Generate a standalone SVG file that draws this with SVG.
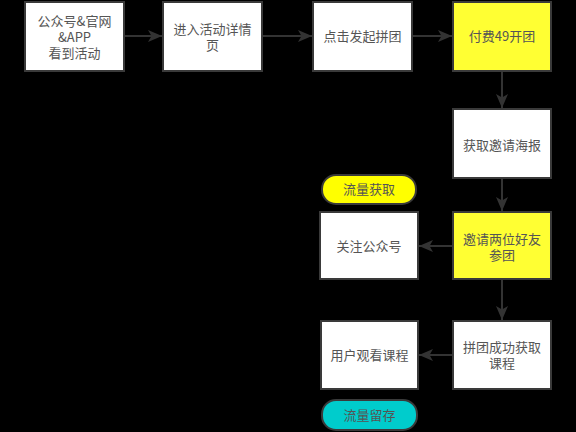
<svg xmlns="http://www.w3.org/2000/svg" width="576" height="432" viewBox="0 0 576 432">
<defs>
<marker id="ah" viewBox="0 0 14 12" markerWidth="14" markerHeight="12" refX="14" refY="6" orient="auto" markerUnits="userSpaceOnUse">
<path d="M0,0 L14,6 L0,12 L3.5,6 Z" fill="#333333"/>
</marker>
<style>
.box{fill:#ffffff;stroke:#3a3a3a;stroke-width:2}
.yel{fill:#ffff33;stroke:#3a3a3a;stroke-width:2}
.pill1{fill:#ffff00;stroke:#3a3a3a;stroke-width:2}
.pill2{fill:#00cccc;stroke:#3a3a3a;stroke-width:2}
.t{font-family:"Noto Sans CJK SC","Liberation Sans",sans-serif;font-size:13px;fill:#555555;text-anchor:middle}
.c{fill:none;stroke:#333333;stroke-width:2;marker-end:url(#ah)}
</style>
</defs>
<rect width="576" height="432" fill="#000000"/>
<g id="connectors">
<path class="c" d="M124,36 L162,36"/>
<path class="c" d="M262,36 L312,36"/>
<path class="c" d="M412,36 L452,36"/>
<path class="c" d="M502,71 L502,108"/>
<path class="c" d="M502,179 L502,211"/>
<path class="c" d="M453,246 L419,246"/>
<path class="c" d="M502,280 L502,320"/>
<path class="c" d="M453,355 L419,355"/>
</g>
<g id="n1"><rect class="box" x="25" y="2" width="99" height="69"/><text class="t" x="74.5" y="26">公众号&amp;官网</text><text class="t" x="74.5" y="42">&amp;APP</text><text class="t" x="74.5" y="58">看到活动</text></g>
<g id="n2"><rect class="box" x="163" y="2" width="99" height="69"/><text class="t" x="212.5" y="34">进入活动详情</text><text class="t" x="212.5" y="50">页</text></g>
<g id="n3"><rect class="box" x="313" y="2" width="99" height="69"/><text class="t" x="362.5" y="41">点击发起拼团</text></g>
<g id="n4"><rect class="yel" x="453" y="2" width="98" height="69"/><text class="t" x="502" y="41">付费49开团</text></g>
<g id="n5"><rect class="box" x="453" y="109" width="98" height="69"/><text class="t" x="502" y="150">获取邀请海报</text></g>
<g id="p1"><rect class="pill1" x="322" y="175" width="94" height="29" rx="14" ry="14"/><text class="t" x="369" y="194">流量获取</text></g>
<g id="n6"><rect class="yel" x="453" y="212" width="98" height="67"/><text class="t" x="502" y="244">邀请两位好友</text><text class="t" x="502" y="260">参团</text></g>
<g id="n7"><rect class="box" x="320" y="212" width="98" height="67"/><text class="t" x="369" y="251">关注公众号</text></g>
<g id="n8"><rect class="box" x="453" y="321" width="98" height="68"/><text class="t" x="502" y="352">拼团成功获取</text><text class="t" x="502" y="368">课程</text></g>
<g id="n9"><rect class="box" x="321" y="321" width="97" height="68"/><text class="t" x="369.5" y="360">用户观看课程</text></g>
<g id="p2"><rect class="pill2" x="322" y="400" width="95" height="30" rx="14" ry="14"/><text class="t" x="369.5" y="420">流量留存</text></g>
</svg>
